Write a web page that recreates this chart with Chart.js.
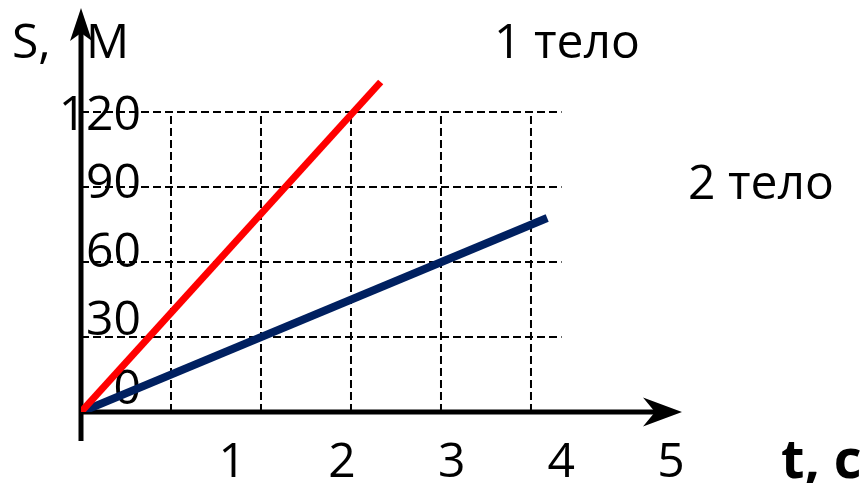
<!DOCTYPE html>
<html>
<head>
<meta charset="utf-8">
<script src="https://cdn.jsdelivr.net/npm/chart.js@4/dist/chart.umd.min.js"></script>
<style>
	body { margin: 0; background: #fff; }
	#wrap { width: 868px; height: 483px; }
</style>
</head>
<body>
<div id="wrap"><canvas id="motion-chart" width="868" height="483"></canvas></div>
<script>
// values
const body1T = [0, 3.33];
const body1S = [0, 132];
const body2T = [0, 5.18];
const body2S = [0, 77.6];
const gridT = [1, 2, 3, 4, 5];
const gridS = [30, 60, 90, 120];
const xTickLabels = ['1', '2', '3', '4', '5'];
const yTickLabels = ['0', '30', '60', '90', '120'];
const seriesNames = ['1 тело', '2 тело'];
const axisTitles = ['S,', 'М', 't, c'];

const toPoints = (ts, ss) => ts.map((t, i) => ({ x: t, y: ss[i] }));

const drawArrow = (ctx, tip, back, half, notch, dir) => {
	ctx.beginPath();
	if (dir === 'up') {
		ctx.moveTo(tip.x, tip.y);
		ctx.lineTo(tip.x - half, tip.y + back);
		ctx.lineTo(tip.x, tip.y + notch);
		ctx.lineTo(tip.x + half, tip.y + back);
	} else {
		ctx.moveTo(tip.x, tip.y);
		ctx.lineTo(tip.x - back, tip.y - half);
		ctx.lineTo(tip.x - notch, tip.y);
		ctx.lineTo(tip.x - back, tip.y + half);
	}
	ctx.closePath();
	ctx.fill();
}

const backdrop = {
	id: 'backdrop',
	beforeDatasetsDraw(chart) {
		const ctx = chart.ctx;
		const { x, y, xl, yl } = chart.scales;
		const area = chart.chartArea;
		ctx.save();

		// dashed grid
		ctx.strokeStyle = '#000';
		ctx.lineWidth = 2;
		ctx.setLineDash([8, 4]);
		gridT.forEach(t => {
			ctx.beginPath();
			ctx.moveTo(x.getPixelForValue(t), y.getPixelForValue(0));
			ctx.lineTo(x.getPixelForValue(t), y.getPixelForValue(gridS[gridS.length - 1]));
			ctx.stroke();
		})
		gridS.forEach(s => {
			ctx.beginPath();
			ctx.moveTo(x.getPixelForValue(0), y.getPixelForValue(s));
			ctx.lineTo(x.getPixelForValue(5.34), y.getPixelForValue(s));
			ctx.stroke();
		})
		ctx.setLineDash([]);

		// tick labels
		ctx.fillStyle = '#000';
		ctx.font = '48px "Open Sans"';
		ctx.textAlign = 'right';
		ctx.textBaseline = 'middle';
		yTickLabels.forEach(l => {
			ctx.fillText(l, 141, yl.getPixelForValue(Number(l)) + 5);
		})
		ctx.textAlign = 'center';
		ctx.textBaseline = 'alphabetic';
		xTickLabels.forEach(l => {
			ctx.fillText(l, xl.getPixelForValue(Number(l)), 477);
		})

		// axes
		const x0 = x.getPixelForValue(0);
		const y0 = y.getPixelForValue(0);
		ctx.lineWidth = 5;
		ctx.beginPath();
		ctx.moveTo(x0, 441);
		ctx.lineTo(x0, area.top + 24);
		ctx.stroke();
		ctx.beginPath();
		ctx.moveTo(x0 - 2, y0);
		ctx.lineTo(area.right - 24, y0);
		ctx.stroke();
		drawArrow(ctx, { x: x0, y: area.top }, 33, 11, 25, 'up');
		drawArrow(ctx, { x: area.right, y: y0 }, 39, 14.5, 27, 'right');

		// titles
		ctx.textAlign = 'left';
		ctx.fillText(axisTitles[0], 12, 58);
		ctx.fillText(axisTitles[1], 86, 58);
		ctx.fillText(seriesNames[0], 494, 58);
		ctx.fillText(seriesNames[1], 688, 199);
		ctx.font = 'bold 54px "Open Sans"';
		ctx.fillText(axisTitles[2], 781, 478);
		ctx.restore();
	}
}

const ctx = document.getElementById('motion-chart').getContext('2d');
new Chart(ctx, {
	type: 'line',
	data: {
		datasets: [{
			label: seriesNames[0],
			data: toPoints(body1T, body1S),
			borderColor: '#ff0000',
			borderWidth: 7,
			borderCapStyle: 'butt',
			pointRadius: 0
		}, {
			label: seriesNames[1],
			data: toPoints(body2T, body2S),
			borderColor: '#002060',
			borderWidth: 8,
			borderCapStyle: 'butt',
			pointRadius: 0
		}]
	},
	options: {
		responsive: false,
		animation: false,
		layout: { padding: { left: 81, right: 186, top: 8, bottom: 71 } },
		plugins: { legend: { display: false }, tooltip: { enabled: false } },
		scales: {
			x: { type: 'linear', min: 0, max: 6.678, display: false },
			y: { type: 'linear', min: 0, max: 161.6, display: false },
			xl: { type: 'linear', axis: 'x', min: -0.379, max: 5.1, display: false },
			yl: { type: 'linear', axis: 'y', min: -11.9, max: 165.4, display: false }
		}
	},
	plugins: [backdrop]
});
</script>
</body>
</html>
